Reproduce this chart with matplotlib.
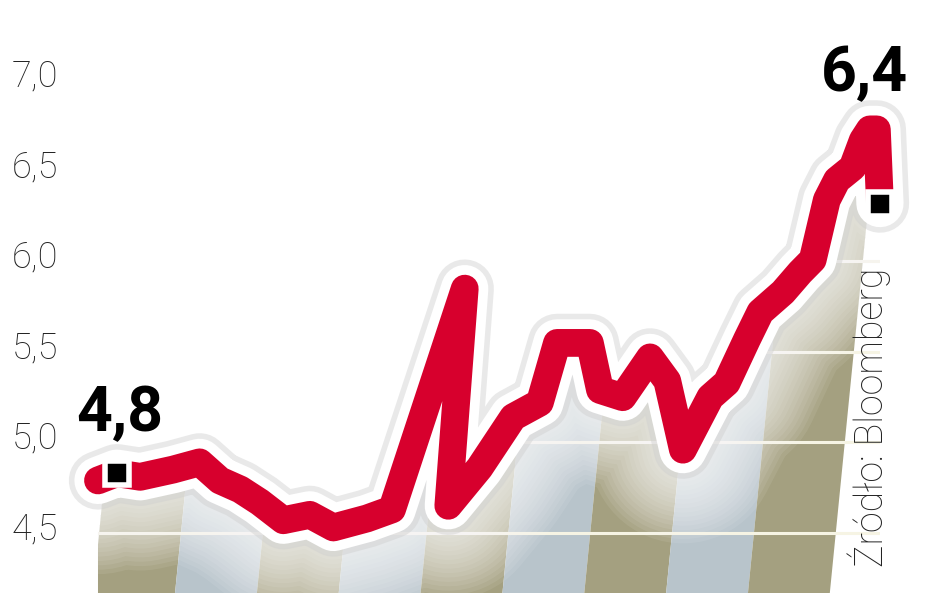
import numpy as np
import matplotlib.pyplot as plt
import matplotlib.transforms as mtransforms
from matplotlib.patches import Polygon

# dane (oś czasu w % okresu, rentowność w %)
t = [0, 2.4, 5.4, 9.6, 13.0, 15.6, 18.2, 20.7, 23.7, 27.1, 30.1, 34.4, 37.6,
     46.9, 44.8, 48.8, 53.1, 56.5, 58.7, 62.9, 64.2, 67.1, 70.6, 72.8, 74.8,
     78.3, 80.4, 83.0, 84.7, 87.6, 89.8, 91.4, 93.2, 94.5, 96.5, 97.8, 98.7,
     99.6, 100]
v = [4.79, 4.83, 4.81, 4.85, 4.89, 4.79, 4.74, 4.67, 4.57, 4.60, 4.53, 4.58, 4.63,
     5.85, 4.65, 4.86, 5.14, 5.22, 5.55, 5.55, 5.29, 5.25, 5.47, 5.34, 4.96,
     5.25, 5.33, 5.57, 5.72, 5.83, 5.94, 6.01, 6.34, 6.45, 6.52, 6.67, 6.73,
     6.73, 6.32]
yticks = [4.5, 5.0, 5.5, 6.0, 6.5, 7.0]
start_label = "4,8"
end_label = "6,4"
source = "Źródło: Bloomberg"

red = '#d7002d'
olive = '#a4a080'
blue = '#b8c4cb'

fig = plt.figure(figsize=(9.48, 5.93), dpi=100)
ax = fig.add_axes([0, 0, 1, 1])
ax.set_xlim(-12.53, 108.7)
ax.set_ylim(4.168, 7.445)
ax.axis('off')

# tło: skośne pasy pod linią
vb, vt = 4.0, 7.3
slant = 2.3
edges = np.linspace(-1, 93.2, 10)
clip = Polygon([(t[0], vb)] + list(zip(t, v)) + [(t[-1], vb)],
               closed=True, transform=ax.transData)
for i in range(len(edges) - 1):
    e0, e1 = edges[i], edges[i + 1]
    col = olive if i % 2 == 0 else blue
    p = Polygon([(e0, vb), (e1, vb), (e1 + slant * (vt - vb), vt),
                 (e0 + slant * (vt - vb), vt)], closed=True,
                facecolor=col, edgecolor='none', zorder=1)
    ax.add_patch(p)
    p.set_clip_path(clip)

# linie siatki (widoczne tylko na pasach)
for y in yticks:
    gl, = ax.plot([-1.5, 100], [y, y], color='#f6f4e4', lw=2.2, zorder=2)
    gl.set_clip_path(clip)

# poświata wokół linii - rozjaśnia pasy
for w in np.linspace(135, 40, 16):
    ax.plot(t, v, color='white', lw=w, alpha=0.08, solid_capstyle='round',
            solid_joinstyle='round', zorder=3)
ax.plot(t, v, color='#cfcfcf', lw=42, alpha=0.45, solid_capstyle='round',
        solid_joinstyle='round', zorder=3)
ax.plot(t, v, color='white', lw=34, solid_capstyle='round',
        solid_joinstyle='round', zorder=4)
ax.plot(t, v, color=red, lw=20, solid_capstyle='round',
        solid_joinstyle='round', zorder=5)

# znaczniki początku i końca
ax.plot([t[1], t[-1]], [v[1], v[-1]], ls='none', marker='s', ms=17,
        mfc='black', mec='white', mew=4, zorder=6)

bold = dict(family=['Roboto', 'DejaVu Sans'], weight='bold',
            size=45, color='black')
ax.annotate(start_label, (t[1], v[1]), xytext=(2, 30), textcoords='offset points',
            ha='center', va='baseline', zorder=7, **bold)
ax.annotate(end_label, (t[-1], v[-1]), xytext=(-11, 81), textcoords='offset points',
            ha='center', va='baseline', zorder=7, **bold)

# etykiety osi Y
trans = mtransforms.blended_transform_factory(ax.transAxes, ax.transData)
for y in yticks:
    ax.text(12 / 948, y + 0.02, f"{y:.1f}".replace('.', ','), transform=trans,
            ha='left', va='center', family=['Roboto', 'DejaVu Sans'],
            weight='light', size=26, color='#222222')

# źródło
fig.text(883 / 948, 1 - 268 / 593, source, rotation=90, rotation_mode='anchor',
         ha='right', va='baseline', family=['Roboto', 'DejaVu Sans'],
         weight='light', size=27, color='#222222')

fig.savefig('out.png', dpi=100)
